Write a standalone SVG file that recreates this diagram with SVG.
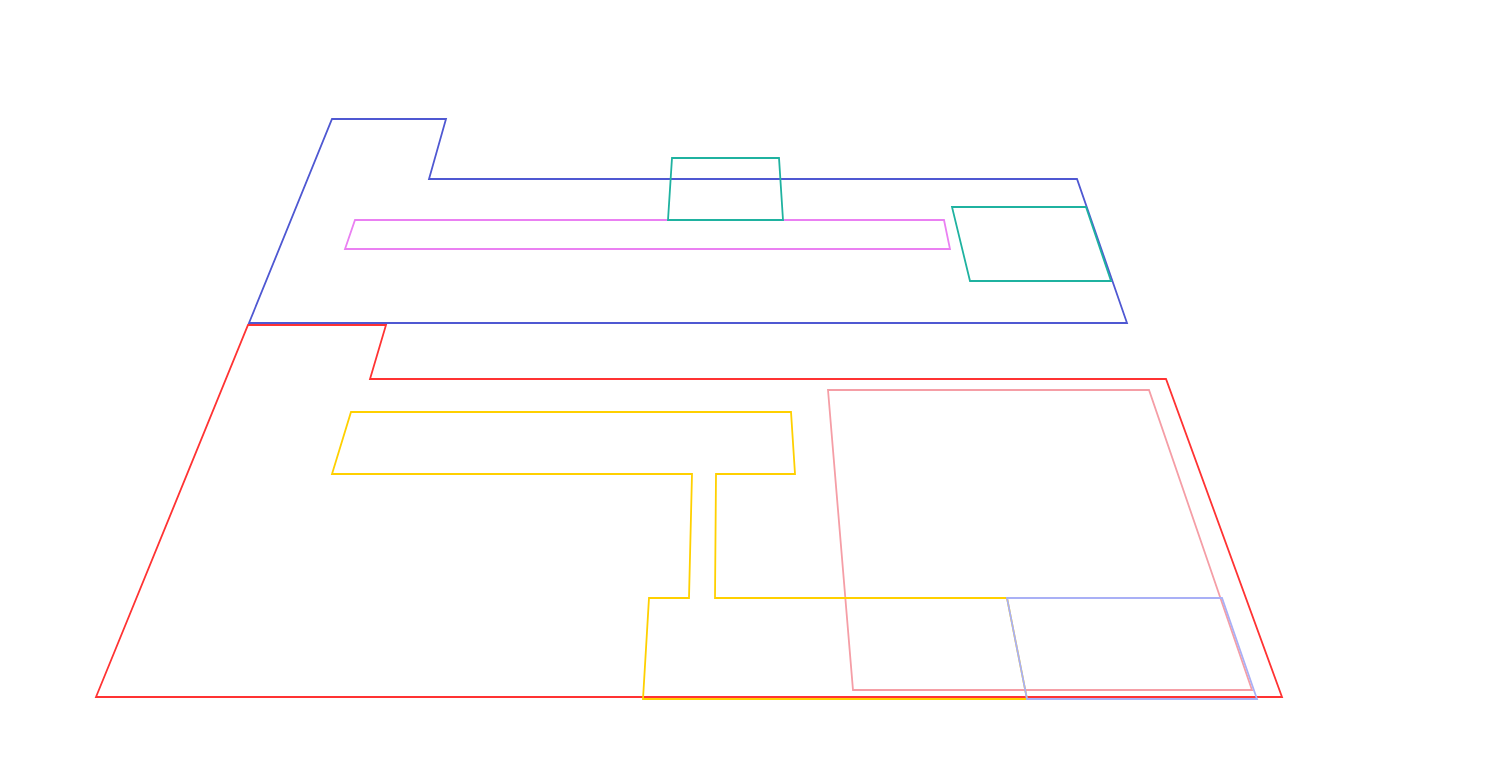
<svg xmlns="http://www.w3.org/2000/svg" width="1494" height="770" viewBox="0 0 1494 770">
<style>
polygon{fill:none;stroke-width:1.8;stroke-linejoin:miter}
.blue{stroke:#4f58d2}
.red{stroke:#ff3333}
.violet{stroke:#ea80f2}
.teal{stroke:#1fb2a0}
.gold{stroke:#ffd000}
.salmon{stroke:#f59ea6}
.lav{stroke:#a9b0f6}
</style>
<rect width="1494" height="770" fill="#ffffff"/>
<g id="zone-upper"><polygon class="blue" points="332,119 446,119 429,179 1077,179 1127,323 249,323"/></g>
<g id="zone-lower"><polygon class="red" points="248,325 386,325 370,379 1166,379 1282,697 96,697"/></g>
<g id="strip"><polygon class="violet" points="355,220 944,220 950,249 345,249"/></g>
<g id="box-top"><polygon class="teal" points="672,158 779,158 783,220 668,220"/></g>
<g id="box-right"><polygon class="teal" points="952,207 1086,207 1111,281 970,281"/></g>
<g id="zone-salmon"><polygon class="salmon" points="828,390 1149,390 1252,690 853,690"/></g>
<g id="zone-gold"><polygon class="gold" points="351,412 791,412 795,474 716,474 715,598 1007,598 1027,699 643,699 649,598 689,598 692,474 332,474"/></g>
<g id="zone-lavender"><polygon class="lav" points="1007,598 1222,598 1257,699 1027,699"/></g>
<g id="connectors"></g>
</svg>
